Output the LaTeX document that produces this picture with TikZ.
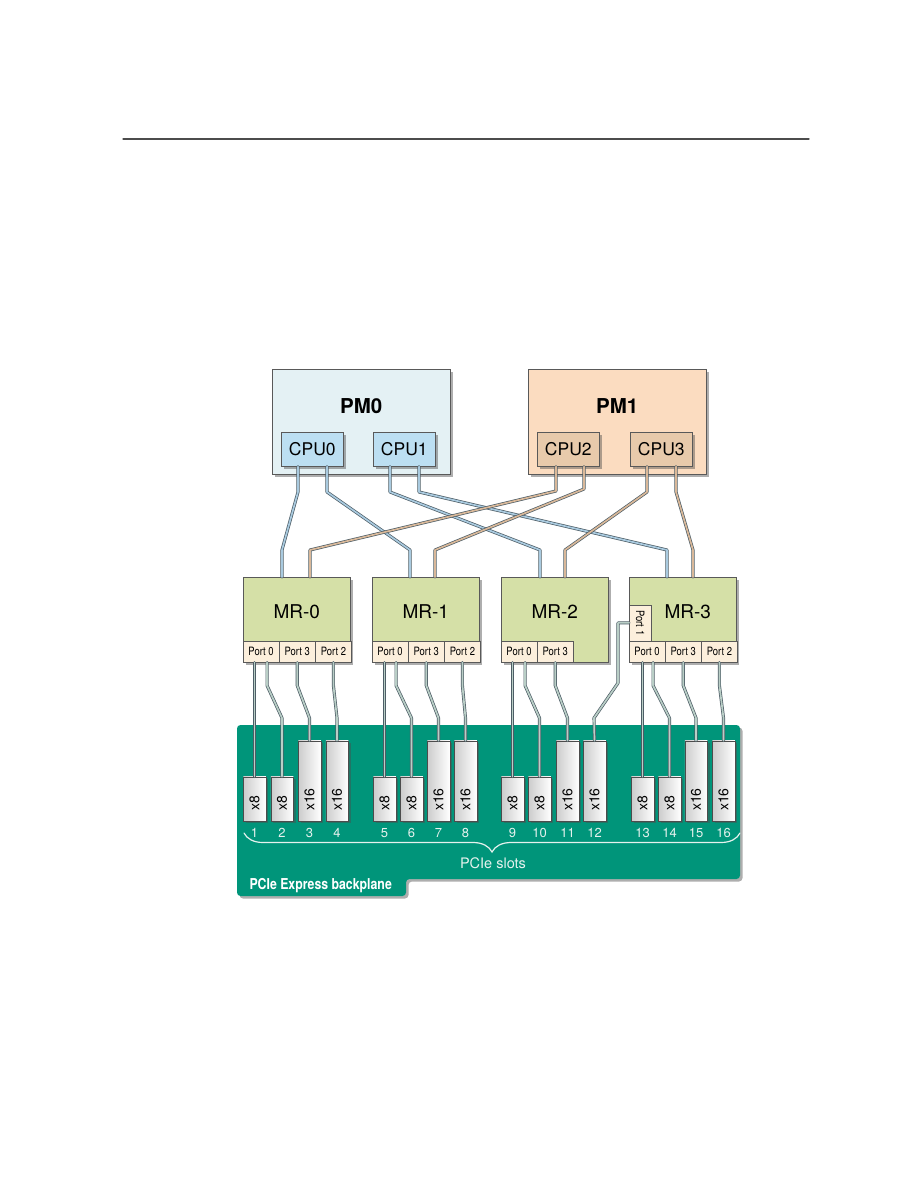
\documentclass[tikz,border=0pt]{standalone}
\usepackage{fontspec}
\setmainfont{TeX Gyre Heros}
\newfontfamily\narrowfont[FakeStretch=0.82]{TeX Gyre Heros}
\usepackage{graphicx}
\usetikzlibrary{positioning,shadows,decorations.pathreplacing}

\definecolor{pmzero}{HTML}{E4F1F4}
\definecolor{cpublue}{HTML}{BCDFF2}
\definecolor{pmone}{HTML}{FBDCC0}
\definecolor{cputan}{HTML}{E8CAAB}
\definecolor{mrgreen}{HTML}{D5E0A7}
\definecolor{portcream}{HTML}{FCEFDC}
\definecolor{backteal}{HTML}{00957A}
\definecolor{linkedge}{HTML}{4D5D66}
\definecolor{linkblue}{HTML}{A9CADF}
\definecolor{linktan}{HTML}{D9B899}
\definecolor{linkslot}{HTML}{B9CEC6}
\definecolor{paletext}{HTML}{E6F2EE}

\tikzset{
  shadowed/.style={drop shadow={shadow xshift=2.5pt, shadow yshift=-2.5pt, opacity=0.45, fill=black!70}},
  box/.style={draw=black!65, line width=0.6pt, inner sep=0pt, shadowed},
  pmbox/.style={box, minimum width=178pt, minimum height=105pt, anchor=north west},
  cpubox/.style={box, minimum width=62pt, minimum height=34pt, anchor=north west, font=\fontsize{17.5}{19}\selectfont},
  mrbox/.style={box, fill=mrgreen, minimum width=107pt, minimum height=85pt, anchor=north west},
  portbox/.style={draw=black!65, line width=0.5pt, fill=portcream, inner sep=0pt, minimum width=35.67pt, minimum height=21pt, font=\narrowfont\fontsize{11.5}{12}\selectfont},
  slotbox/.style={draw=black!70, line width=0.5pt, left color=black!20, right color=white, inner sep=0pt, minimum width=22.5pt, anchor=south west, shadowed},
  link/.style={draw=linkedge, line width=0.7pt, double distance=1.7pt, line join=round},
  bluelink/.style={link, double=linkblue},
  tanlink/.style={link, double=linktan},
  slotlink/.style={link, double=linkslot},
  bigbold/.style={font=\bfseries\fontsize{20.5}{22}\selectfont},
  mrlabel/.style={font=\fontsize{19}{21}\selectfont}
}

\begin{document}
\begin{tikzpicture}[x=1pt,y=-1pt,line cap=round]
\useasboundingbox (0,0) rectangle (918,1188);
\draw[black!70, line width=1.3pt] (123,139) -- (809,139);

% Processor modules
\node[pmbox, fill=pmzero] (pm0) at (272,369) {};
\node[bigbold] at ([yshift=16pt]pm0.center) {PM0};
\node[cpubox, fill=cpublue] (cpu0) at (281,432) {CPU0};
\node[cpubox, fill=cpublue] (cpu1) at (373,432) {CPU1};
\node[pmbox, fill=pmone] (pm1) at (528,369) {};
\node[bigbold] at ([yshift=16pt]pm1.center) {PM1};
\node[cpubox, fill=cputan] (cpu2) at (537,432) {CPU2};
\node[cpubox, fill=cputan] (cpu3) at (630,432) {CPU3};

% Memory risers
\node[mrbox] (mr0) at (243,577) {};
\node[mrbox] (mr1) at (372,577) {};
\node[mrbox] (mr2) at (501,577) {};
\node[mrbox] (mr3) at (629,577) {};
\node[mrlabel] at ([yshift=8pt]mr0.center) {MR-0};
\node[mrlabel] at ([yshift=8pt]mr1.center) {MR-1};
\node[mrlabel] at ([yshift=8pt]mr2.center) {MR-2};
\node[mrlabel] at ([xshift=5pt,yshift=8pt]mr3.center) {MR-3};

\node[portbox, anchor=south west] (mr0p0) at (mr0.south west) {Port 0};
\node[portbox, right=0pt of mr0p0] (mr0p3) {Port 3};
\node[portbox, right=0pt of mr0p3] (mr0p2) {Port 2};
\node[portbox, anchor=south west] (mr1p0) at (mr1.south west) {Port 0};
\node[portbox, right=0pt of mr1p0] (mr1p3) {Port 3};
\node[portbox, right=0pt of mr1p3] (mr1p2) {Port 2};
\node[portbox, anchor=south west] (mr2p0) at (mr2.south west) {Port 0};
\node[portbox, right=0pt of mr2p0] (mr2p3) {Port 3};
\node[portbox, anchor=south west] (mr3p0) at (mr3.south west) {Port 0};
\node[portbox, right=0pt of mr3p0] (mr3p3) {Port 3};
\node[portbox, right=0pt of mr3p3] (mr3p2) {Port 2};
\node[portbox, minimum width=22pt, minimum height=36pt, anchor=south west] (mr3p1) at (mr3p0.north west) {\rotatebox{-90}{Port 1}};

% CPU to riser links
\draw[bluelink] (298,0 |- cpu0.south) -- (298,492) -- (282,550) -- (282,0 |- mr0.north);
\draw[bluelink] (327,0 |- cpu0.south) -- (327,492) -- (410,550) -- (410,0 |- mr1.north);
\draw[bluelink] (390,0 |- cpu1.south) -- (390,492) -- (540,550) -- (540,0 |- mr2.north);
\draw[bluelink] (419,0 |- cpu1.south) -- (419,492) -- (667,550) -- (667,0 |- mr3.north);
\draw[tanlink] (556,0 |- cpu2.south) -- (556,491) -- (310,550) -- (310,0 |- mr0.north);
\draw[tanlink] (584,0 |- cpu2.south) -- (584,489) -- (435,550) -- (435,0 |- mr1.north);
\draw[tanlink] (647,0 |- cpu3.south) -- (647,492) -- (565,550) -- (565,0 |- mr2.north);
\draw[tanlink] (676,0 |- cpu3.south) -- (676,492) -- (693,550) -- (693,0 |- mr3.north);

% Backplane
\path[fill=backteal, rounded corners=3.5pt, shadowed] (237,725) -- (740,725) -- (740,879) -- (406,879) -- (406,896) -- (237,896) -- cycle;
\node[font=\narrowfont\bfseries\fontsize{15}{16}\selectfont, text=white, anchor=west] (bplabel) at (246,886) {PCIe Express backplane};

% Slots
\foreach \n/\xl/\lab/\h in {1/243/x8/44, 2/270.5/x8/44, 3/298/x16/80, 4/325.5/x16/80,
  5/373/x8/44, 6/400/x8/44, 7/427/x16/80, 8/454/x16/80,
  9/501/x8/44, 10/528/x8/44, 11/556/x16/80, 12/583/x16/80,
  13/631/x8/44, 14/658/x8/44, 15/684.5/x16/80, 16/712/x16/80} {
  \node[slotbox, minimum height=\h pt] (s\n) at (\xl,821) {};
  \node[rotate=90, anchor=west, inner sep=0pt, font=\fontsize{14}{15}\selectfont] at ([yshift=10pt]s\n.south) {\lab};
  \node[text=paletext, font=\fontsize{13}{14}\selectfont] at (s\n.south |- 0,833) {\n};
}
\draw[paletext, line width=1.2pt, decorate, decoration={brace, mirror, amplitude=19pt}] (244,833) -- (740,833);
\node[text=paletext, font=\fontsize{14.5}{16}\selectfont] (slotlabel) at (493,863) {PCIe slots};

% Riser to slot links
\foreach \m/\a/\b in {mr0p0/1/2, mr1p0/5/6, mr2p0/9/10, mr3p0/13/14} {
  \draw[slotlink] (s\a.north |- \m.south) -- (s\a.north);
  \draw[slotlink] ([xshift=6pt]\m.south) -- ++(0,23) -- (s\b.north |- 0,718) -- (s\b.north);
}
\foreach \p/\s in {mr0p3/3, mr0p2/4, mr1p3/7, mr1p2/8, mr2p3/11, mr3p3/15, mr3p2/16}
  \draw[slotlink] (\p.south) -- ++(0,23) -- (s\s.north |- 0,718) -- (s\s.north);
\draw[slotlink] (mr3p1.west) -- (618,0 |- mr3p1.west) -- (618,683) -- (594,718) -- (s12.north);
\end{tikzpicture}
\end{document}
